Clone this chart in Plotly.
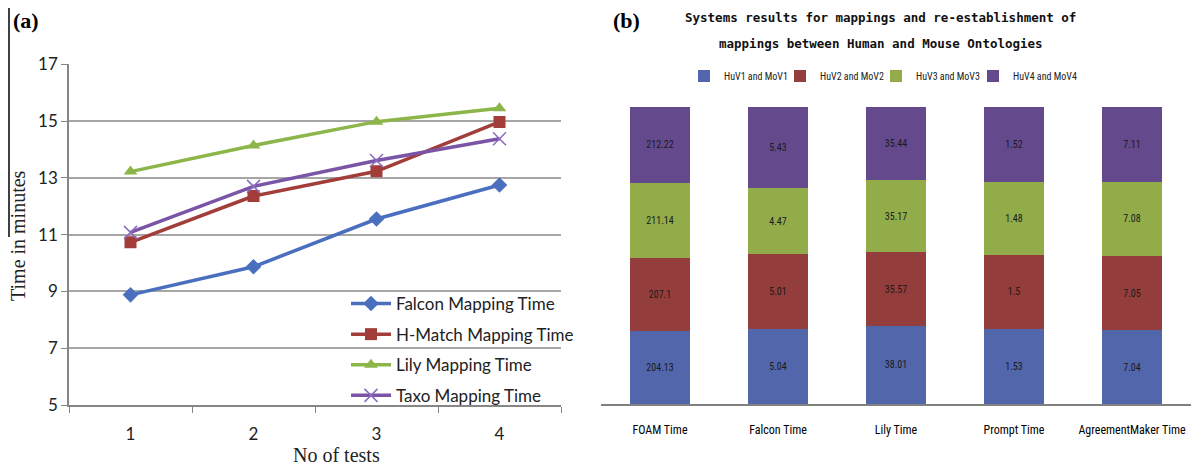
import plotly.graph_objects as go

# page body has an 8px margin; figure sized to fit the 1200x468 window
OFF = 8
W, H = 1200 - OFF, 468 - OFF

# ---------- data: panel (a) ----------
tests = ["1", "2", "3", "4"]
falcon_map = [8.88, 9.87, 11.55, 12.75]
hmatch_map = [10.73, 12.36, 13.23, 14.97]
lily_map = [13.22, 14.14, 14.98, 15.45]
taxo_map = [11.08, 12.70, 13.61, 14.38]
line_names = ["Falcon Mapping Time", "H-Match Mapping Time", "Lily Mapping Time", "Taxo Mapping Time"]

# ---------- data: panel (b) ----------
systems = ["FOAM Time", "Falcon Time", "Lily Time", "Prompt Time", "AgreementMaker Time"]
huv1_mov1 = [204.13, 5.04, 38.01, 1.53, 7.04]
huv2_mov2 = [207.1, 5.01, 35.57, 1.5, 7.05]
huv3_mov3 = [211.14, 4.47, 35.17, 1.48, 7.08]
huv4_mov4 = [212.22, 5.43, 35.44, 1.52, 7.11]
bar_names = ["HuV1 and MoV1", "HuV2 and MoV2", "HuV3 and MoV3", "HuV4 and MoV4"]


def px_x(p):
    return (p - OFF) / W


def px_y(p):
    return 1 - (p - OFF) / H


line_colors = ["#4A6FBE", "#A23D3A", "#8DB64A", "#7A55A6"]
symbols = ["diamond", "square", "triangle-up", "x-thin"]
bar_colors = ["#5266AC", "#933E3C", "#92AC4A", "#644A8D"]

fig = go.Figure()

series_a = [falcon_map, hmatch_map, lily_map, taxo_map]
for i, (name, ys) in enumerate(zip(line_names, series_a)):
    sym = symbols[i]
    marker = dict(symbol=sym, size=12 if sym != "x-thin" else 13, color=line_colors[i])
    if sym == "x-thin":
        marker["line"] = dict(width=1.5, color="#8A6BC0")
    fig.add_trace(go.Scatter(
        x=tests, y=ys, name=name, mode="lines+markers",
        line=dict(color=line_colors[i], width=3.5),
        marker=marker, xaxis="x", yaxis="y", legend="legend",
        legendgroup=f"g{i}",
    ))

bar_legends = ["legend2", "legend3", "legend4", "legend5"]
series_b = [huv1_mov1, huv2_mov2, huv3_mov3, huv4_mov4]
for i, (name, vals) in enumerate(zip(bar_names, series_b)):
    fig.add_trace(go.Bar(
        x=systems, y=vals, name=name, marker=dict(color=bar_colors[i], line=dict(width=0)),
        text=[str(v) for v in vals], textposition="inside", insidetextanchor="middle",
        textangle=0, constraintext="none",
        textfont=dict(family="Liberation Sans Narrow, Roboto Condensed, Liberation Sans", size=10, color="#1a1a1a"),
        xaxis="x2", yaxis="y2", legend=bar_legends[i],
    ))

grid_c = "#A6A6A6"
axis_c = "#868686"
tick_font = dict(family="Lato, Noto Sans, sans-serif", size=17, color="#222222")

fig.update_layout(
    width=W, height=H, autosize=False,
    margin=dict(l=0, r=0, t=0, b=0, autoexpand=False),
    paper_bgcolor="white", plot_bgcolor="white",
    barmode="stack", barnorm="percent", bargap=0.49,
    xaxis=dict(
        domain=[px_x(69), px_x(561)], type="category", tickson="boundaries",
        range=[-0.5, 3.5], automargin=False, ticklabelstandoff=13,
        ticks="outside", ticklen=6, tickcolor=axis_c, showline=True, linecolor=axis_c,
        linewidth=1.5, showgrid=False, tickfont=tick_font, anchor="y", zeroline=False,
    ),
    yaxis=dict(
        domain=[px_y(405), px_y(64.3)], range=[5, 17], tickvals=[5, 7, 9, 11, 13, 15, 17],
        automargin=False,
        ticks="outside", ticklen=6, tickcolor=axis_c, showline=True, linecolor=axis_c,
        linewidth=1.5, showgrid=True, gridcolor=grid_c, gridwidth=1.5, zeroline=False,
        tickfont=tick_font, anchor="x",
    ),
    xaxis2=dict(
        domain=[px_x(601), px_x(1191)], type="category", ticks="", showline=True,
        automargin=False, ticklabelstandoff=14,
        linecolor="#808080", linewidth=1.5, showgrid=False, anchor="y2",
        tickfont=dict(family="Liberation Sans Narrow, Roboto Condensed, Liberation Sans", size=12, color="#000000"),
    ),
    yaxis2=dict(
        domain=[px_y(404), px_y(107)], range=[0, 100], visible=False, anchor="x2",
        automargin=False,
    ),
    legend=dict(
        x=px_x(346), xanchor="left", y=px_y(286), yanchor="top",
        bgcolor="rgba(0,0,0,0)", tracegroupgap=5.5,
        font=dict(family="Lato, Noto Sans, sans-serif", size=17, color="#222222"),
        itemwidth=40,
    ),
    showlegend=True,
)

# one small legend per bar series so entries sit where the reference has them
bar_legend_text_px = [722, 818, 914, 1011]
for lg, tx in zip(bar_legends, bar_legend_text_px):
    fig.update_layout({lg: dict(
        orientation="h", x=px_x(tx - 38), xanchor="left", y=px_y(76), yanchor="middle",
        bgcolor="rgba(0,0,0,0)",
        font=dict(family="Liberation Sans Narrow, Roboto Condensed, Liberation Sans", size=10, color="#222222"),
        itemwidth=30,
    )})

annotations = [
    dict(text="<b>(a)</b>", x=px_x(11), y=px_y(21), xanchor="left", yanchor="middle",
         font=dict(family="Liberation Serif", size=22, color="black")),
    dict(text="<b>(b)</b>", x=px_x(611), y=px_y(21), xanchor="left", yanchor="middle",
         font=dict(family="Liberation Serif", size=22, color="black")),
    dict(text="Time in minutes", x=px_x(18), y=px_y(236), textangle=-90,
         xanchor="center", yanchor="middle",
         font=dict(family="Liberation Serif", size=20, color="#222222")),
    dict(text="No of tests", x=px_x(336), y=px_y(455), xanchor="center", yanchor="middle",
         font=dict(family="Liberation Serif", size=20, color="#222222")),
    dict(text="<b>Systems results for mappings and re-establishment of</b>",
         x=px_x(880), y=px_y(18), xanchor="center", yanchor="middle",
         font=dict(family="DejaVu Sans Mono", size=12.5, color="#111111")),
    dict(text="<b>mappings between Human and Mouse Ontologies</b>",
         x=px_x(881), y=px_y(43), xanchor="center", yanchor="middle",
         font=dict(family="DejaVu Sans Mono", size=12.5, color="#111111")),
]
for a in annotations:
    a.update(xref="paper", yref="paper", showarrow=False)
fig.update_layout(annotations=annotations)

fig.add_shape(type="line", xref="paper", yref="paper",
              x0=px_x(9), x1=px_x(9), y0=1, y1=px_y(237),
              line=dict(color="black", width=1.5))

fig.write_html("out.html")
